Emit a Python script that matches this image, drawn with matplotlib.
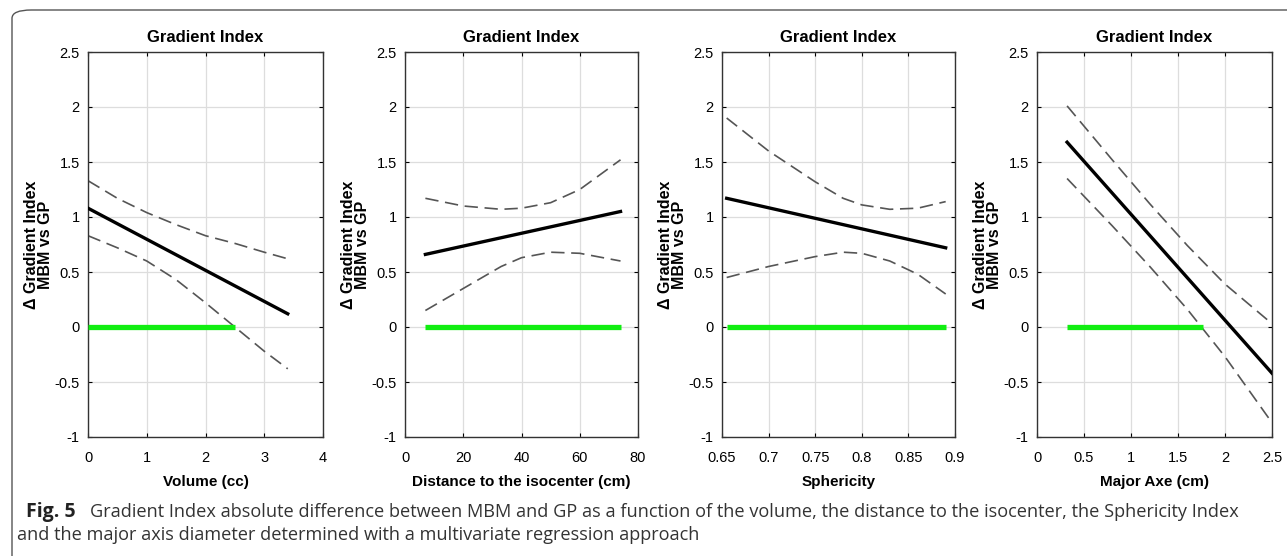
import numpy as np
import matplotlib
matplotlib.use('Agg')
import matplotlib.pyplot as plt
from matplotlib.patches import FancyBboxPatch

plt.rcParams['font.family'] = ['Liberation Sans', 'DejaVu Sans']

# panel 1: volume
vol_x = [0, 0.5, 1, 1.5, 2, 2.5, 3, 3.4]
vol_up = [1.33, 1.17, 1.04, 0.93, 0.83, 0.76, 0.68, 0.62]
vol_lo = [0.83, 0.72, 0.60, 0.43, 0.22, 0.0, -0.22, -0.38]
vol_fit_x = [0, 3.4]
vol_fit = [1.08, 0.12]
vol_green = [0, 2.5]

# panel 2: distance to isocenter
dist_x = [7, 20, 33, 40, 50, 60, 74]
dist_up = [1.17, 1.10, 1.07, 1.08, 1.13, 1.25, 1.52]
dist_lo = [0.15, 0.35, 0.55, 0.63, 0.68, 0.67, 0.60]
dist_fit_x = [7, 74]
dist_fit = [0.66, 1.05]
dist_green = [7, 74]

# panel 3: sphericity
sph_x = [0.655, 0.70, 0.75, 0.78, 0.80, 0.83, 0.86, 0.89]
sph_up = [1.90, 1.60, 1.32, 1.17, 1.11, 1.07, 1.08, 1.14]
sph_lo = [0.45, 0.55, 0.64, 0.68, 0.67, 0.60, 0.48, 0.30]
sph_fit_x = [0.655, 0.89]
sph_fit = [1.17, 0.72]
sph_green = [0.655, 0.89]

# panel 4: major axe
ax_x = [0.32, 0.8, 1.2, 1.6, 2.0, 2.5]
ax_up = [2.01, 1.52, 1.12, 0.74, 0.39, 0.03]
ax_lo = [1.35, 0.92, 0.55, 0.16, -0.27, -0.87]
ax_fit_x = [0.32, 2.5]
ax_fit = [1.68, -0.42]
ax_green = [0.32, 1.77]

panels = [
    (vol_x, vol_up, vol_lo, vol_fit_x, vol_fit, vol_green, 'Volume (cc)', (0, 4),
     [0, 1, 2, 3, 4], ['0', '1', '2', '3', '4']),
    (dist_x, dist_up, dist_lo, dist_fit_x, dist_fit, dist_green, 'Distance to the isocenter (cm)', (0, 80),
     [0, 20, 40, 60, 80], ['0', '20', '40', '60', '80']),
    (sph_x, sph_up, sph_lo, sph_fit_x, sph_fit, sph_green, 'Sphericity', (0.65, 0.9),
     [0.65, 0.7, 0.75, 0.8, 0.85, 0.9], ['0.65', '0.7', '0.75', '0.8', '0.85', '0.9']),
    (ax_x, ax_up, ax_lo, ax_fit_x, ax_fit, ax_green, 'Major Axe (cm)', (0, 2.5),
     [0, 0.5, 1, 1.5, 2, 2.5], ['0', '0.5', '1', '1.5', '2', '2.5']),
]

yticks = [-1, -0.5, 0, 0.5, 1, 1.5, 2, 2.5]
ytick_labels = ['-1', '-0.5', '0', '0.5', '1', '1.5', '2', '2.5']

W, H = 1287, 556
fig = plt.figure(figsize=(W / 100, H / 100), dpi=100)

# rounded frame around figure + caption
frame = FancyBboxPatch((12 / W, -0.05), 1.05, 1.05 - 10 / H,
                       boxstyle='round,pad=0,rounding_size=0.015',
                       transform=fig.transFigure, fill=False,
                       edgecolor='#555555', linewidth=1.0)
fig.patches.append(frame)

lefts = [88, 405, 722, 1037]
widths = [235, 233, 233, 235]
for i, (x, up, lo, fx, fit, green, xlabel, xlim, xt, xtl) in enumerate(panels):
    ax = fig.add_axes([lefts[i] / W, 1 - 437 / H, widths[i] / W, 385 / H])
    ax.plot(green, [0, 0], color='#11ee11', linewidth=3.8, solid_capstyle='butt', zorder=3)
    ax.plot(x, up, color='#555555', linewidth=1.2, dashes=(8, 4))
    ax.plot(x, lo, color='#555555', linewidth=1.2, dashes=(8, 4))
    ax.plot(fx, fit, color='black', linewidth=2.4, zorder=4)
    ax.set_xlim(xlim)
    ax.set_ylim(-1, 2.5)
    ax.set_xticks(xt)
    ax.set_xticklabels(xtl)
    ax.set_yticks(yticks)
    ax.set_yticklabels(ytick_labels)
    ax.grid(True, color='#dddddd', linewidth=0.9)
    ax.tick_params(direction='in', top=True, right=True, length=3, labelsize=10.5, width=0.8)
    ax.tick_params(axis='x', pad=10)
    ax.tick_params(axis='y', pad=6)
    for s in ax.spines.values():
        s.set_color('#333333')
        s.set_linewidth(1.0)
    ax.set_title('Gradient Index', fontsize=12, fontweight='bold', pad=7)
    ax.set_xlabel(xlabel, fontsize=11, fontweight='bold', labelpad=7)
    ax.set_ylabel('\u0394 Gradient Index\nMBM vs GP', fontsize=11.5, fontweight='bold',
                  labelpad=1, linespacing=0.95)

# caption
cap_font = ['Open Sans', 'DejaVu Sans']
fig.text(26 / W, 1 - 517 / H, 'Fig. 5', fontsize=14, fontweight='bold',
         family=cap_font, color='#222222', va='baseline')
fig.text(90 / W, 1 - 517 / H,
         'Gradient Index absolute difference between MBM and GP as a function of the volume, '
         'the distance to the isocenter, the Sphericity Index',
         fontsize=13.1, family=cap_font, color='#333333', va='baseline')
fig.text(17 / W, 1 - 540 / H,
         'and the major axis diameter determined with a multivariate regression approach',
         fontsize=13.1, family=cap_font, color='#333333', va='baseline')

fig.savefig('out.png', dpi=100)
